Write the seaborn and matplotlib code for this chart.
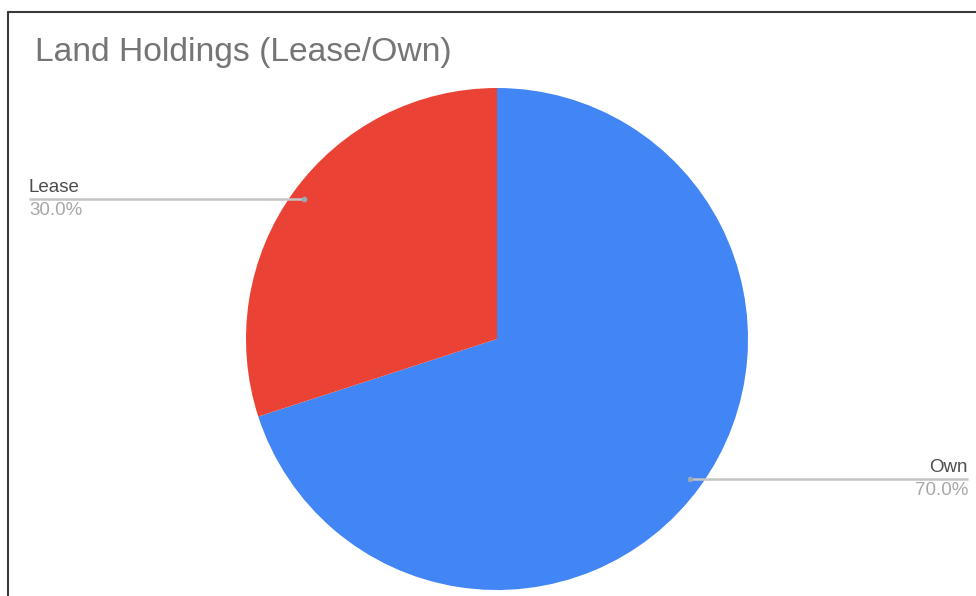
import numpy as np
import matplotlib
matplotlib.use("Agg")
import matplotlib.pyplot as plt
from matplotlib.lines import Line2D
import seaborn as sns

# Data
categories = ["Own", "Lease"]
values = [70.0, 30.0]
colors = ["#4285F4", "#EA4335"]
title = "Land Holdings (Lease/Own)"

sns.set_theme(style="white")
plt.rcParams["font.family"] = ["Liberation Sans", "DejaVu Sans"]

W, H = 976, 596
fig = plt.figure(figsize=(W / 100, H / 100), dpi=100)
ax = fig.add_axes([0, 0, 1, 1])

cx, cy, r = 497, H - 339, 251
wedges, _ = ax.pie(values, colors=colors, startangle=90, counterclock=False,
                   radius=r, center=(cx, cy), frame=True,
                   wedgeprops=dict(linewidth=0))
ax.set_xlim(0, W)
ax.set_ylim(0, H)
ax.set_aspect("equal")
ax.axis("off")

total = sum(values)
for w, cat, val in zip(wedges, categories, values):
    mid = np.deg2rad((w.theta1 + w.theta2) / 2)
    ax_x = cx + 0.95 * r * np.cos(mid)
    ax_y = cy + 0.95 * r * np.sin(mid)
    if np.cos(mid) >= 0:
        end_x, ha = W - 8, "right"
    else:
        end_x, ha = 29, "left"
    ax.plot([ax_x, end_x], [ax_y, ax_y], color="#c4c4c4", lw=1.8,
            solid_capstyle="butt", zorder=3)
    ax.plot([ax_x], [ax_y], "o", color="#9aa8b8", ms=3, zorder=4)
    ax.text(end_x, ax_y + 3, cat, ha=ha, va="bottom", fontsize=13.5,
            color="#4d4d4d")
    ax.text(end_x, ax_y - 3, f"{val / total * 100:.1f}%", ha=ha, va="top",
            fontsize=13.5, color="#a8a8a8")

fig.text(35 / W, 1 - 52 / H, title, ha="left", va="center", fontsize=24.2,
         color="#757575")

# frame border (top and left)
fig.add_artist(Line2D([7.5 / W, 1], [1 - 11.5 / H, 1 - 11.5 / H],
                      transform=fig.transFigure, color="#3a3a3a", lw=1.5))
fig.add_artist(Line2D([7.5 / W, 7.5 / W], [0, 1 - 11.5 / H],
                      transform=fig.transFigure, color="#3a3a3a", lw=1.5))

fig.savefig("out.png", dpi=100, facecolor="white")
